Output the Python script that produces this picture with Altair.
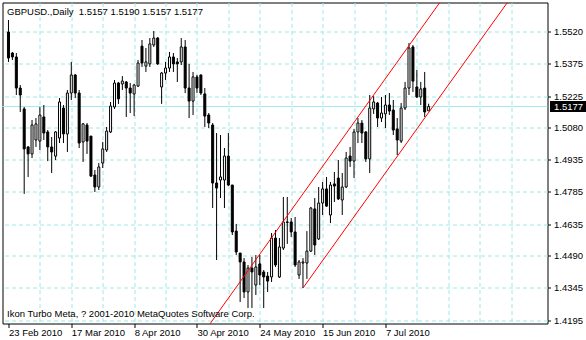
import json
import altair as alt
import pandas as pd

# ---------------- data ----------------
symbol = "GBPUSD."
period = "Daily"
copyright_text = "Ikon Turbo Meta, ? 2001-2010 MetaQuotes Software Corp."

opens = [1.5520, 1.5423, 1.5405, 1.5262, 1.5166, 1.4991, 1.4959, 1.5023, 1.5018, 1.5129,
         1.5060, 1.4991, 1.4949, 1.5032, 1.5170, 1.5051, 1.5239, 1.5322, 1.5239, 1.5014,
         1.5092, 1.5041, 1.4862, 1.4807, 1.4917, 1.4977, 1.5060, 1.5175, 1.5285, 1.5281,
         1.5290, 1.5262, 1.5235, 1.5271, 1.5455, 1.5363, 1.5373, 1.5460, 1.5492, 1.5267,
         1.5331, 1.5354, 1.5405, 1.5382, 1.5382, 1.5451, 1.5262, 1.5202, 1.5313, 1.5322,
         1.5235, 1.5138, 1.5092, 1.4825, 1.4839, 1.4839, 1.4949, 1.4816, 1.4604, 1.4503,
         1.4462, 1.4324, 1.4434, 1.4356, 1.4453, 1.4416, 1.4397, 1.4393, 1.4572, 1.4393,
         1.4526, 1.4646, 1.4646, 1.4600, 1.4402, 1.4457, 1.4457, 1.4512, 1.4706, 1.4568,
         1.4733, 1.4798, 1.4678, 1.4821, 1.4848, 1.4747, 1.4807, 1.4949, 1.4926, 1.5060,
         1.5101, 1.5060, 1.4936, 1.5166, 1.5193, 1.5124, 1.5143, 1.5184, 1.5161, 1.5074,
         1.5018, 1.5170, 1.5262, 1.5451, 1.5267, 1.5221, 1.5262, 1.5157]
highs = [1.5575, 1.5428, 1.5423, 1.5276, 1.5175, 1.4995, 1.5115, 1.5124, 1.5175, 1.5184,
         1.5069, 1.5037, 1.5064, 1.5216, 1.5184, 1.5253, 1.5382, 1.5327, 1.5253, 1.5101,
         1.5101, 1.5041, 1.4885, 1.4917, 1.5014, 1.5083, 1.5198, 1.5299, 1.5290, 1.5317,
         1.5294, 1.5285, 1.5281, 1.5391, 1.5483, 1.5446, 1.5492, 1.5524, 1.5497, 1.5336,
         1.5382, 1.5428, 1.5423, 1.5400, 1.5492, 1.5483, 1.5373, 1.5336, 1.5322, 1.5325,
         1.5262, 1.5147, 1.5101, 1.5055, 1.5046, 1.4986, 1.5055, 1.4816, 1.4637, 1.4503,
         1.4480, 1.4448, 1.4485, 1.4494, 1.4494, 1.4425, 1.4416, 1.4595, 1.4609, 1.4572,
         1.4761, 1.4761, 1.4664, 1.4669, 1.4471, 1.4480, 1.4604, 1.4715, 1.4756, 1.4807,
         1.4830, 1.4853, 1.4830, 1.4876, 1.4931, 1.4871, 1.4968, 1.4991, 1.5074, 1.5124,
         1.5115, 1.5064, 1.5230, 1.5225, 1.5198, 1.5221, 1.5230, 1.5239, 1.5207, 1.5124,
         1.5193, 1.5290, 1.5469, 1.5460, 1.5345, 1.5290, 1.5336, 1.5190]
lows = [1.5382, 1.5391, 1.5230, 1.5152, 1.4775, 1.4853, 1.4940, 1.4991, 1.4977, 1.5023,
        1.4926, 1.4871, 1.4931, 1.5009, 1.5009, 1.4968, 1.5207, 1.5216, 1.4986, 1.4922,
        1.4959, 1.4853, 1.4784, 1.4793, 1.4894, 1.4968, 1.5055, 1.5166, 1.5189, 1.5253,
        1.5129, 1.5147, 1.5133, 1.5267, 1.5359, 1.5336, 1.5359, 1.5451, 1.5368, 1.5189,
        1.5299, 1.5336, 1.5336, 1.5290, 1.5368, 1.5239, 1.5124, 1.5138, 1.5239, 1.5230,
        1.5083, 1.5078, 1.4710, 1.4471, 1.4756, 1.4710, 1.4811, 1.4586, 1.4494, 1.4278,
        1.4296, 1.4250, 1.4250, 1.4310, 1.4356, 1.4250, 1.4324, 1.4370, 1.4439, 1.4388,
        1.4517, 1.4545, 1.4577, 1.4439, 1.4384, 1.4342, 1.4384, 1.4508, 1.4494, 1.4563,
        1.4678, 1.4715, 1.4641, 1.4738, 1.4747, 1.4678, 1.4802, 1.4899, 1.4848, 1.5009,
        1.5009, 1.4922, 1.4871, 1.5143, 1.5083, 1.5106, 1.5078, 1.5138, 1.5046, 1.4954,
        1.5009, 1.5161, 1.5230, 1.5244, 1.5216, 1.5184, 1.5129, 1.5157]
closes = [1.5400, 1.5405, 1.5262, 1.5230, 1.4982, 1.4959, 1.5092, 1.5097, 1.5138, 1.5055,
          1.4991, 1.4968, 1.5060, 1.5198, 1.5051, 1.5239, 1.5322, 1.5239, 1.5009, 1.5097,
          1.5018, 1.4857, 1.4807, 1.4899, 1.4982, 1.5064, 1.5179, 1.5285, 1.5212, 1.5294,
          1.5262, 1.5239, 1.5276, 1.5377, 1.5377, 1.5382, 1.5465, 1.5492, 1.5373, 1.5331,
          1.5354, 1.5405, 1.5373, 1.5373, 1.5451, 1.5262, 1.5202, 1.5313, 1.5262, 1.5239,
          1.5133, 1.5101, 1.4825, 1.4802, 1.4853, 1.4949, 1.4816, 1.4600, 1.4508, 1.4462,
          1.4324, 1.4434, 1.4416, 1.4439, 1.4402, 1.4393, 1.4374, 1.4572, 1.4448, 1.4531,
          1.4646, 1.4644, 1.4600, 1.4448, 1.4462, 1.4462, 1.4512, 1.4710, 1.4540, 1.4733,
          1.4798, 1.4719, 1.4816, 1.4811, 1.4752, 1.4807, 1.4940, 1.4926, 1.5060, 1.5101,
          1.5055, 1.4936, 1.5170, 1.5198, 1.5124, 1.5147, 1.5184, 1.5156, 1.5069, 1.5023,
          1.5170, 1.5262, 1.5446, 1.5294, 1.5221, 1.5258, 1.5152, 1.5177]

# date labels on the time axis (bar index -> label)
date_ticks = [0, 16, 32, 48, 64, 80, 96]
date_labels = ["23 Feb 2010", "17 Mar 2010", "8 Apr 2010", "30 Apr 2010",
               "24 May 2010", "15 Jun 2010", "7 Jul 2010"]
grid_bars = list(range(0, 136, 8))

# price axis labels
price_ticks = [1.5520, 1.5375, 1.5225, 1.5080, 1.4935, 1.4785,
               1.4635, 1.4490, 1.4345, 1.4195]

# equidistant channel (two anchor points per line)
channel_line = ["upper", "upper", "lower", "lower"]
channel_bar = [50, 120, 75, 135]
channel_price = [1.4144, 1.5912, 1.4342, 1.5856]

bid = closes[-1]

# ---------------- styling ----------------
FONT = "Liberation Sans"
FS = 9.5
GRID = "#9fe8e8"
BID = "#a6eaea"
DASH = [4, 3]

df = pd.DataFrame({"i": list(range(len(opens))), "open": opens, "high": highs,
                   "low": lows, "close": closes})
chan_df = pd.DataFrame({"line": channel_line, "i": channel_bar, "price": channel_price})
bid_df = pd.DataFrame({"price": [bid], "label": [f"{bid:.4f}"]})
title_df = pd.DataFrame({"t": [f"{symbol},{period}\u00a0\u00a0{opens[-1]:.4f} {highs[-1]:.4f} "
                               f"{lows[-1]:.4f} {closes[-1]:.4f}"]})
copy_df = pd.DataFrame({"t": [copyright_text]})

x_scale = alt.Scale(domain=[-0.25, 136], nice=False, zero=False)
y_scale = alt.Scale(domain=[1.41789, 1.56555], nice=False, zero=False)

tick_js = json.dumps(date_ticks)
lab_js = json.dumps(date_labels)
label_expr = f"indexof({tick_js}, datum.value) >= 0 ? {lab_js}[indexof({tick_js}, datum.value)] : ''"

x_axis = alt.Axis(values=grid_bars, labelExpr=label_expr, grid=True, gridColor=GRID,
                  gridDash=DASH,
                  gridOpacity={"condition": {"test": "datum.value == 0", "value": 0}, "value": 1},
                  tickOpacity={"condition": {"test": f"indexof({tick_js}, datum.value) < 0", "value": 0}, "value": 1},
                  tickSize=4, tickColor="black", domain=False, labelAlign="left",
                  labelBaseline="top", labelPadding=0, labelFont=FONT, labelFontSize=FS,
                  labelColor="black", title=None, labelOverlap=False, labelFlush=False)
y_axis = alt.Axis(orient="right", values=price_ticks, format=".4f", grid=True, gridColor=GRID,
                  gridDash=DASH, tickSize=3, tickColor="black", domain=False, labelPadding=3,
                  labelFont=FONT, labelFontSize=FS, labelColor="black", title=None,
                  labelOverlap=False, labelFlush=False)

X = alt.X("i:Q", scale=x_scale, axis=x_axis)

bid_line = alt.Chart(bid_df).mark_rule(color=BID, strokeWidth=1).encode(
    y=alt.Y("price:Q", scale=y_scale, axis=y_axis))

wicks = alt.Chart(df).mark_rule(color="black", strokeWidth=1, clip=True).encode(
    x=X, y=alt.Y("low:Q", scale=y_scale, axis=y_axis), y2="high:Q")

bodies = alt.Chart(df).mark_bar(size=2, stroke="black", strokeWidth=1, clip=True).encode(
    x=X, y=alt.Y("open:Q", scale=y_scale, axis=y_axis), y2="close:Q",
    fill=alt.condition("datum.close >= datum.open", alt.value("white"), alt.value("black")))

channel = alt.Chart(chan_df).mark_line(color="#ff0000", strokeWidth=1, clip=True).encode(
    x=X, y=alt.Y("price:Q", scale=y_scale, axis=y_axis), detail="line:N")

price_box = alt.Chart(bid_df).mark_rule(color="black", strokeWidth=11).encode(
    y=alt.Y("price:Q", scale=y_scale, axis=y_axis), x=alt.value(547.5), x2=alt.value(584))

price_txt = alt.Chart(bid_df).mark_text(color="white", align="left", baseline="middle",
                                        font=FONT, fontSize=FS).encode(
    y=alt.Y("price:Q", scale=y_scale, axis=y_axis), x=alt.value(551.5), text="label:N")

title_txt = alt.Chart(title_df).mark_text(align="left", baseline="alphabetic", font=FONT,
                                          fontSize=FS, color="black").encode(
    x=alt.value(4.5), y=alt.value(12.5), text="t:N")

copy_txt = alt.Chart(copy_df).mark_text(align="left", baseline="alphabetic", font=FONT,
                                        fontSize=FS, color="black").encode(
    x=alt.value(4.5), y=alt.value(314.5), text="t:N")

chart = alt.layer(bid_line, wicks, bodies, channel, price_box, price_txt, title_txt, copy_txt).properties(
    width=545, height=321,
    autosize=alt.AutoSizeParams(type="none"),
    padding={"left": 2.5, "top": 2.5, "right": 38.5, "bottom": 16.5},
    background="white",
).configure_view(stroke="black", strokeWidth=1)

chart.save("out.html", embed_options={"renderer": "svg", "actions": False})
